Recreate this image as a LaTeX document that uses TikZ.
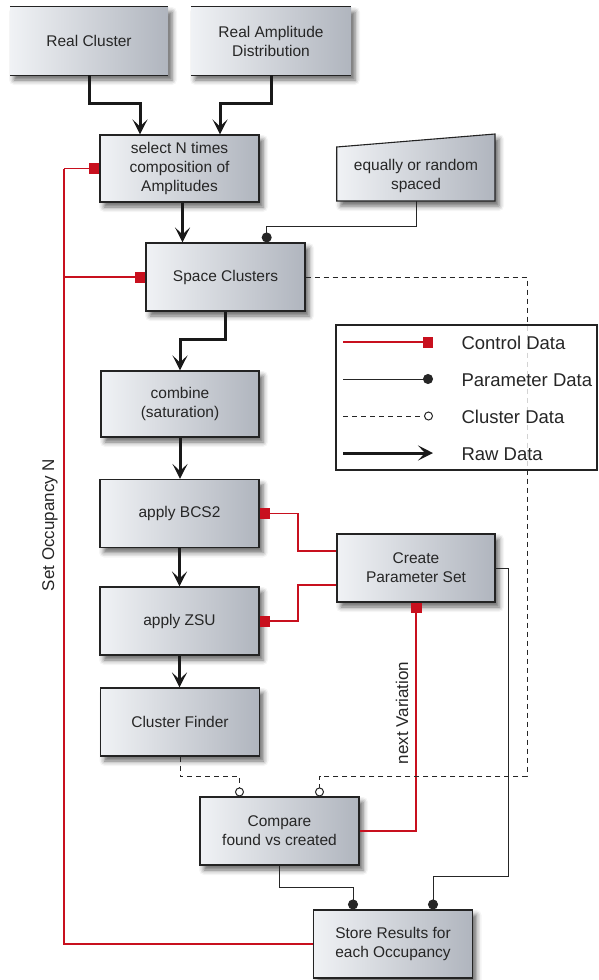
\documentclass[tikz,border=0pt]{standalone}
\usepackage{fontspec}
\setmainfont{Liberation Sans}
\usetikzlibrary{arrows.meta,shadows.blur,calc}
\definecolor{ctrlred}{RGB}{200,16,30}
\definecolor{boxleft}{RGB}{240,242,245}
\definecolor{boxright}{RGB}{176,181,190}
\definecolor{edge}{RGB}{35,35,35}
\tikzset{
  boxbase/.style={rectangle, left color=boxleft, right color=boxright,
    blur shadow={shadow xshift=4pt, shadow yshift=-5pt, shadow blur radius=5pt, shadow opacity=60},
    align=center, font=\fontsize{15.5}{19}\selectfont, text=black!85,
    minimum width=159pt, minimum height=68pt, inner sep=2pt},
  box/.style={boxbase, draw=edge, line width=1.1pt},
  openbox/.style={boxbase},
  raw/.style={line width=3pt, draw=black!90, -{Stealth[length=15pt,width=15pt,inset=7pt]}},
  ctrl/.style={draw=ctrlred, line width=1.1pt, -{Square[length=10pt,width=11pt,fill=ctrlred]}},
  ctrlline/.style={draw=ctrlred, line width=1.1pt},
  param/.style={draw=black!85, line width=1pt, -{Circle[length=10pt,fill=black!85]}},
  clus/.style={draw=black!85, line width=1pt, dash pattern=on 5pt off 4pt, -{Circle[open,length=9pt,width=9pt,line width=1pt,fill=white]}},
  legtext/.style={anchor=west, font=\fontsize{18.5}{22}\selectfont, text=black!85},
  sidelabel/.style={rotate=90, font=\fontsize{17}{20}\selectfont, text=black!85}
}
\begin{document}
\begin{tikzpicture}[x=1pt,y=-1pt]
\useasboundingbox (0,0) rectangle (598,980);

% top boxes (only top and bottom edges drawn)
\node[openbox, minimum width=158pt] (rc) at (89,41) {Real Cluster};
\node[openbox, minimum width=160pt] (ra) at (271,41) {Real Amplitude\\Distribution};
\foreach \n in {rc,ra}{
  \draw[edge, line width=1.1pt] (\n.north west) -- (\n.north east);
  \draw[edge, line width=1.1pt] (\n.south west) -- (\n.south east);
}

\node[box, minimum height=67pt] (sel) at (179.5,168.5) {select N times\\composition of\\Amplitudes};

% equally or random spaced (manual input shape)
\path[left color=boxleft, right color=boxright, draw=edge, line width=1.1pt,
  blur shadow={shadow xshift=4pt, shadow yshift=-5pt, shadow blur radius=5pt, shadow opacity=60}]
  (336.7,147) -- (495,134) -- (495,201) -- (336.7,201) -- cycle;
\node[align=center, font=\fontsize{15.5}{19}\selectfont, text=black!85] (eq) at (416,176) {equally or random\\spaced};
\coordinate (eqb) at (416,201);

\node[box] (sp) at (225.5,277) {Space Clusters};
\node[box, minimum width=158pt, minimum height=66pt] (comb) at (180,404) {combine\\(saturation)};
\node[box] (bcs) at (179.5,513.5) {apply BCS2};
\node[box] (zsu) at (179.5,621) {apply ZSU};
\node[box] (cf) at (180,722) {Cluster Finder};
\node[box, minimum width=158pt] (cps) at (416,568) {Create\\Parameter Set};
\node[box] (cmp) at (279.5,831) {Compare\\found vs created};
\node[box] (st) at (393,944) {Store Results for\\each Occupancy};

% raw data arrows
\draw[raw] (rc.south) -- ++(0,28) -| ([xshift=-39.5pt]sel.north);
\draw[raw] (ra.south) -- ++(0,28) -| ([xshift=40.5pt]sel.north);
\draw[raw] ([xshift=3pt]sel.south) -- ([xshift=3pt]sel.south |- sp.north);
\draw[raw] (sp.south) -- ++(0,28) -| (comb.north);
\draw[raw] (comb.south) -- (comb.south |- bcs.north);
\draw[raw] (bcs.south) -- (bcs.south |- zsu.north);
\draw[raw] (zsu.south) -- (zsu.south |- cf.north);

% control data
\coordinate (lx) at (64,0);
\coordinate (mx) at (298,0);
\draw[ctrlline] (st.west) -| (sel.west -| lx);
\draw[ctrl] (sel.west -| lx) -- (sel.west);
\draw[ctrl] (sp.west -| lx) -- (sp.west);
\draw[ctrl] ([yshift=17pt]cps.west) -- ([yshift=17pt]cps.west -| mx) |- (bcs.east);
\draw[ctrl] ([yshift=-17pt]cps.west) -- ([yshift=-17pt]cps.west -| mx) |- (zsu.east);
\draw[ctrl] (cmp.east) -| (cps.south);

% parameter data
\coordinate (p1) at (266.7,226);
\draw[param] (eqb) |- (p1) -- (p1 |- sp.north);
\draw[param] (cps.east) -| (508,876) -| ([xshift=40pt]st.north);
\draw[param] (cmp.south) -- ++(0,22) -| ([xshift=-40pt]st.north);

% cluster data
\draw[clus] (cf.south) -- ++(0,20) -| ([xshift=-40pt]cmp.north);
\draw[clus] (sp.east) -| (527,776) -| ([xshift=40pt]cmp.north);

% side labels
\node[sidelabel] (occ) at (50,525) {Set Occupancy N};
\node[sidelabel] (nv) at (402,713) {next Variation};

% legend
\node[draw=edge, line width=1.1pt, fill=white, fill opacity=0.8, minimum width=261pt, minimum height=145pt, inner sep=0pt] (leg) at (466.5,397.5) {};
\coordinate (l1a) at (343,342); \coordinate (l1b) at (433,342);
\coordinate (l2a) at (343,379); \coordinate (l2b) at (433,379);
\coordinate (l3a) at (343,416); \coordinate (l3b) at (433,416);
\coordinate (l4a) at (343,453); \coordinate (l4b) at (433,453);
\draw[ctrl] (l1a) -- (l1b);
\draw[param] (l2a) -- (l2b);
\draw[clus] (l3a) -- (l3b);
\draw[raw] (l4a) -- (l4b);
\node[legtext] (t1) at (458,343) {Control Data};
\node[legtext] (t2) at (458,380) {Parameter Data};
\node[legtext] (t3) at (458,417) {Cluster Data};
\node[legtext] (t4) at (458,454) {Raw Data};
\end{tikzpicture}
\end{document}
